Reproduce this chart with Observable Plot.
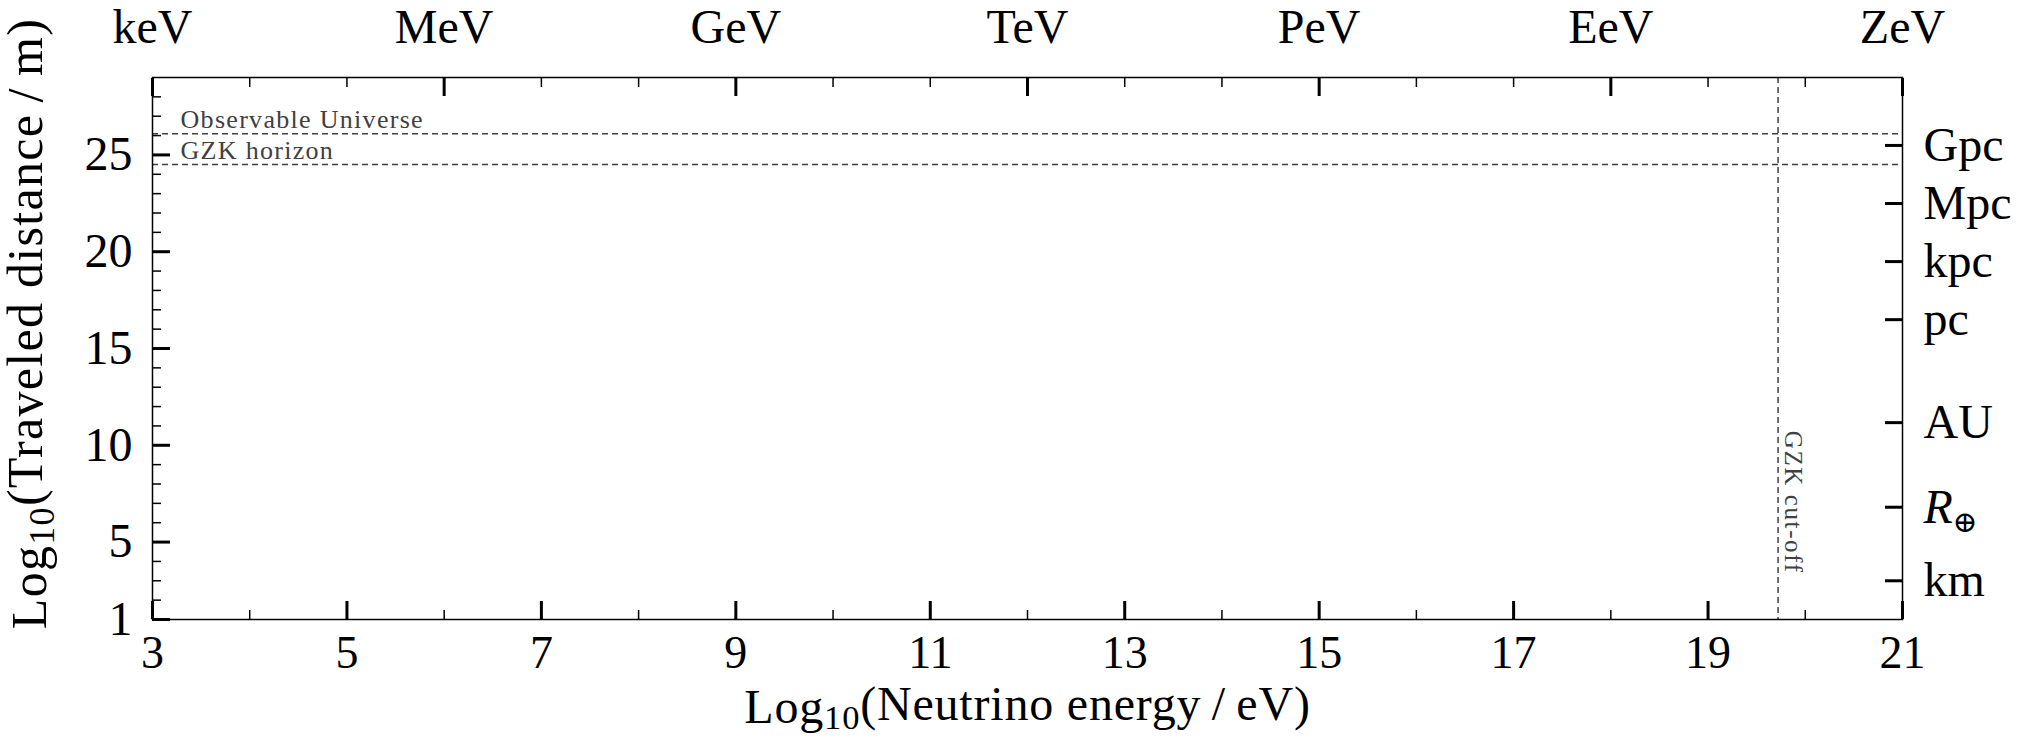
<!DOCTYPE html>
<html>
<head>
<meta charset="utf-8">
<script src="https://cdn.jsdelivr.net/npm/d3@7"></script>
<script src="https://cdn.jsdelivr.net/npm/@observablehq/plot@0.6"></script>
<style>
  html, body { margin: 0; padding: 0; background: #fff; }
  svg { display: block; }
</style>
</head>
<body>
<div id="chart"></div>
<script>
// ---- data ----
const energyDomain = [3, 21];
const energyTicks = [3, 5, 7, 9, 11, 13, 15, 17, 19, 21];
const energyMinor = [4, 6, 8, 10, 12, 14, 16, 18, 20];
const unitTicks = [3, 6, 9, 12, 15, 18, 21];
const unitNames = ["keV", "MeV", "GeV", "TeV", "PeV", "EeV", "ZeV"];
const unitMinor = [4, 5, 7, 8, 10, 11, 13, 14, 16, 17, 19, 20];
const distDomain = [1, 29];
const distTicks = [1, 5, 10, 15, 20, 25];
const distMinor = [2, 3, 4, 6, 7, 8, 9, 11, 12, 13, 14, 16, 17, 18, 19, 21, 22, 23, 24, 26, 27, 28];
const scaleNames = ["km", "R⊕", "AU", "pc", "kpc", "Mpc", "Gpc"];
const scaleValues = [3, 6.80, 11.17, 16.49, 19.49, 22.49, 25.49];
const horizonNames = ["Observable Universe", "GZK horizon"];
const horizonValues = [26.1, 24.5];
const cutoffNames = ["GZK cut-off"];
const cutoffValues = [19.72];
const cutoffLabelStart = [10.75];
const xTitle = "Log10(Neutrino energy\u2009/\u2009eV)";
const yTitle = "Log10(Traveled distance\u2009/\u2009m)";

const horizons = horizonNames.map((name, i) => ({name, value: horizonValues[i]}));
const cutoffs = cutoffNames.map((name, i) => ({name, value: cutoffValues[i], start: cutoffLabelStart[i]}));

const font = "'Liberation Serif', 'Times New Roman', serif";
const annot = "#404040";
const tickFont = 48;

const plot = Plot.plot({
  width: 2018,
  height: 739,
  marginLeft: 152,
  marginRight: 116,
  marginTop: 77,
  marginBottom: 120,
  style: {fontFamily: font, background: "#fff", color: "#000", overflow: "visible"},
  x: {domain: energyDomain},
  y: {domain: distDomain},
  marks: [
    Plot.ruleY(horizons, {y: "value", stroke: annot, strokeWidth: 1.5, strokeDasharray: "6,4"}),
    Plot.ruleX(cutoffs, {x: "value", stroke: annot, strokeWidth: 1.5, strokeDasharray: "6,4"}),
    Plot.text(horizons, {x: () => energyDomain[0], y: "value", text: "name", textAnchor: "start",
      lineAnchor: "bottom", dx: 28, dy: -6, fontSize: 26, fill: annot}),
    Plot.text(cutoffs, {x: "value", y: "start", text: "name", rotate: 90, textAnchor: "start",
      lineAnchor: "bottom", dx: 7, fontSize: 25, fill: annot}),

    // bottom axis
    Plot.axisX(energyTicks, {anchor: "bottom", tickSize: -18, strokeWidth: 3, fill: "none", label: null}),
    Plot.axisX(energyMinor, {anchor: "bottom", tickSize: -9, strokeWidth: 1.5, fill: "none", label: null}),
    Plot.axisX(energyTicks, {anchor: "bottom", tickSize: 0, tickPadding: 16, fontSize: 46, label: null}),
    // top axis
    Plot.axisX(unitTicks, {anchor: "top", tickSize: -18, strokeWidth: 3, fill: "none", label: null}),
    Plot.axisX(unitMinor, {anchor: "top", tickSize: -9, strokeWidth: 1.5, fill: "none", label: null}),
    Plot.axisX(unitTicks, {anchor: "top", tickSize: 0, tickPadding: 35, fontSize: tickFont, label: null,
      tickFormat: d => unitNames[unitTicks.indexOf(d)]}),
    // left axis
    Plot.axisY(distTicks, {anchor: "left", tickSize: -18, strokeWidth: 3, fill: "none", label: null}),
    Plot.axisY(distMinor, {anchor: "left", tickSize: -9, strokeWidth: 1.5, fill: "none", label: null}),
    Plot.axisY(distTicks, {anchor: "left", tickSize: 0, tickPadding: 20, fontSize: tickFont, label: null}),
    // right axis
    Plot.axisY(scaleValues, {anchor: "right", tickSize: -18, strokeWidth: 3, fill: "none", label: null}),
    Plot.axisY(scaleValues, {anchor: "right", tickSize: 0, tickPadding: 21, fontSize: tickFont, label: null,
      tickFormat: d => scaleNames[scaleValues.indexOf(d)]}),

    Plot.frame({stroke: "#000", strokeWidth: 1.5}),

    // titles
    Plot.text([xTitle], {frameAnchor: "bottom", textAnchor: "middle", lineAnchor: "bottom", dy: 103, fontSize: 48, fill: "#000"}),
    Plot.text([yTitle], {frameAnchor: "left", textAnchor: "middle", lineAnchor: "bottom", rotate: -90, dx: -107, dy: -25, fontSize: 50, fill: "#000"})
  ]
});

document.getElementById("chart").appendChild(plot);

// rich text: subscripts and italic
const svg = d3.select(plot);
svg.selectAll("text").each(function () {
  const t = this.textContent;
  const sel = d3.select(this);
  if (t === xTitle || t === yTitle) {
    const rest = t.slice(5);
    const shift = t === xTitle ? 0.18 : 0.24;
    sel.text(null).style("letter-spacing", t === xTitle ? "0.8px" : "1.3px");
    sel.append("tspan").text("Log");
    sel.append("tspan").attr("font-size", "0.72em").attr("dy", shift + "em").text("10");
    sel.append("tspan").attr("dy", (-shift) + "em").text(rest);
  } else if (t === "R⊕") {
    sel.text(null);
    sel.append("tspan").attr("font-style", "italic").text("R");
    sel.append("tspan").attr("font-size", "0.62em").attr("dy", "0.3em").attr("font-family", "'DejaVu Serif', serif").text("⊕");
  } else if (horizonNames.includes(t) || cutoffNames.includes(t)) {
    sel.style("letter-spacing", t === "GZK cut-off" ? "1.6px" : "1.3px");
  }
});
</script>
</body>
</html>
